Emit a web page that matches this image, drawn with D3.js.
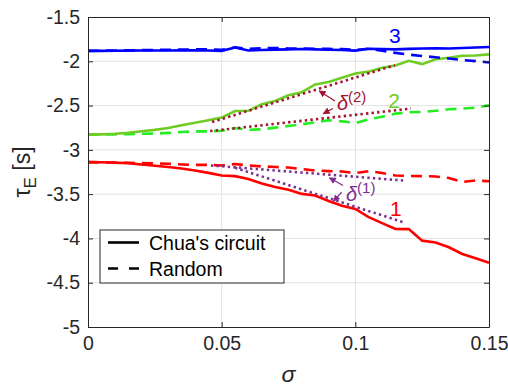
<!DOCTYPE html>
<html>
<head>
<meta charset="utf-8">
<script src="https://cdn.jsdelivr.net/npm/d3@7"></script>
<style>
body { margin: 0; background: #fff; }
svg text { font-family: "Liberation Sans", Arial, Helvetica, sans-serif; fill: #262626; }
</style>
</head>
<body>
<svg id="chart" width="508" height="386"></svg>
<script>
// sigma grid of the simulation
const sigma = [0, 0.005, 0.01, 0.015, 0.02, 0.025, 0.03, 0.035, 0.04, 0.045, 0.05,
    0.055, 0.06, 0.065, 0.07, 0.075, 0.08, 0.085, 0.09, 0.095, 0.1,
    0.105, 0.11, 0.115, 0.12, 0.125, 0.13, 0.135, 0.14, 0.145, 0.15];

// case 1 (red)
const chua1 = [-3.139, -3.14, -3.145, -3.15, -3.165, -3.18, -3.193, -3.21, -3.233, -3.26, -3.29,
    -3.297, -3.33, -3.38, -3.42, -3.45, -3.497, -3.516, -3.578, -3.63, -3.667,
    -3.76, -3.827, -3.893, -3.895, -4.025, -4.045, -4.10, -4.176, -4.223, -4.275];
const random1 = [-3.139, -3.142, -3.142, -3.146, -3.15, -3.153, -3.157, -3.165, -3.17, -3.17, -3.176,
    -3.16, -3.176, -3.187, -3.193, -3.20, -3.216, -3.233, -3.24, -3.244, -3.263,
    -3.24, -3.261, -3.289, -3.295, -3.297, -3.30, -3.318, -3.363, -3.346, -3.354];

// case 2 (green)
const chua2 = [-2.828, -2.825, -2.819, -2.808, -2.789, -2.774, -2.754, -2.723, -2.695, -2.666, -2.636,
    -2.561, -2.559, -2.485, -2.448, -2.383, -2.349, -2.262, -2.233, -2.185, -2.138,
    -2.117, -2.072, -2.047, -1.995, -2.032, -1.976, -1.961, -1.938, -1.934, -1.922];
const random2 = [-2.825, -2.825, -2.825, -2.822, -2.819, -2.817, -2.808, -2.799, -2.791, -2.791, -2.785,
    -2.754, -2.774, -2.768, -2.749, -2.731, -2.712, -2.689, -2.666, -2.678, -2.697,
    -2.655, -2.627, -2.591, -2.576, -2.572, -2.559, -2.542, -2.534, -2.523, -2.497];

// case 3 (blue)
const chua3 = [-1.882, -1.882, -1.881, -1.880, -1.879, -1.879, -1.878, -1.877, -1.877, -1.878, -1.882,
    -1.845, -1.878, -1.872, -1.868, -1.865, -1.862, -1.866, -1.870, -1.872, -1.880,
    -1.858, -1.862, -1.865, -1.860, -1.855, -1.853, -1.855, -1.850, -1.845, -1.838];
const random3 = [-1.882, -1.880, -1.878, -1.876, -1.874, -1.872, -1.870, -1.868, -1.866, -1.866, -1.870,
    -1.843, -1.860, -1.852, -1.850, -1.855, -1.855, -1.858, -1.860, -1.862, -1.872,
    -1.858, -1.880, -1.905, -1.925, -1.940, -1.955, -1.968, -1.985, -1.998, -2.013];

// dotted delta segments  [sigma, tau]
const delta2Upper = [[0.0464, -2.686], [0.1148, -2.044]];
const delta2Lower = [[0.0457, -2.788], [0.1208, -2.534]];
const delta1Upper = [[0.046, -3.176], [0.118, -3.346]];
const delta1Lower = [[0.055, -3.202], [0.118, -3.818]];

const xTicks = [0, 0.05, 0.1, 0.15];
const yTicks = [-5, -4.5, -4, -3.5, -3, -2.5, -2, -1.5];
const xTickLabels = ["0", "0.05", "0.1", "0.15"];
const yTickLabels = ["-5", "-4.5", "-4", "-3.5", "-3", "-2.5", "-2", "-1.5"];
const legendLabels = ["Chua's circuit", "Random"];

const margin = {left: 88, top: 17, right: 19, bottom: 59};
const W = 508, H = 386;
const svg = d3.select("#chart");

const x = d3.scaleLinear().domain([0, 0.15]).range([margin.left, W - margin.right]);
const y = d3.scaleLinear().domain([-5, -1.5]).range([H - margin.bottom, margin.top]);

const axisColor = "#262626";

// grid
svg.append("g").selectAll("line").data(xTicks.slice(1, -1)).join("line")
    .attr("x1", d => x(d)).attr("x2", d => x(d))
    .attr("y1", y(-5)).attr("y2", y(-1.5))
    .attr("stroke", "#e3e3e3").attr("stroke-width", 1);
svg.append("g").selectAll("line").data(yTicks.slice(1, -1)).join("line")
    .attr("y1", d => y(d)).attr("y2", d => y(d))
    .attr("x1", x(0)).attr("x2", x(0.15))
    .attr("stroke", "#e3e3e3").attr("stroke-width", 1);

const line = d3.line().x((d, i) => x(sigma[i])).y(d => y(d));
const seg = d3.line().x(d => x(d[0])).y(d => y(d[1]));

const series = [
    {v: random1, color: "#ff0000", dash: "11,7"},
    {v: chua1, color: "#ff0000", dash: null},
    {v: random2, color: "#22ee22", dash: "11,7"},
    {v: chua2, color: "#6fcc22", dash: null},
    {v: random3, color: "#0000ff", dash: "11,7"},
    {v: chua3, color: "#0000ff", dash: null}
];

series.forEach(s => {
    svg.append("path").datum(s.v)
        .attr("d", line)
        .attr("fill", "none")
        .attr("stroke", s.color)
        .attr("stroke-width", 2.6)
        .attr("stroke-dasharray", s.dash);
});

// dotted delta lines
[[delta2Upper, "#a2142f"], [delta2Lower, "#a2142f"], [delta1Upper, "#7e2f8e"], [delta1Lower, "#7e2f8e"]]
    .forEach(p => {
        svg.append("path").datum(p[0])
            .attr("d", seg)
            .attr("fill", "none")
            .attr("stroke", p[1])
            .attr("stroke-width", 2.6)
            .attr("stroke-dasharray", "2.4,3.2");
    });

// arrow heads
const defs = svg.append("defs");
["#a2142f", "#7e2f8e"].forEach((c, i) => {
    defs.append("marker")
        .attr("id", "arr" + i)
        .attr("viewBox", "0 0 10 10")
        .attr("refX", 9).attr("refY", 5)
        .attr("markerWidth", 7).attr("markerHeight", 7)
        .attr("markerUnits", "userSpaceOnUse")
        .attr("orient", "auto")
        .append("path").attr("d", "M0,0 L10,5 L0,10 z").attr("fill", c);
});

const arrows = [
    {from: [0.0924, -2.448], to: [0.0865, -2.335], m: 0, c: "#a2142f"},
    {from: [0.0916, -2.534], to: [0.0880, -2.591], m: 0, c: "#a2142f"},
    {from: [0.0954, -3.403], to: [0.0903, -3.315], m: 1, c: "#7e2f8e"},
    {from: [0.0949, -3.478], to: [0.0918, -3.580], m: 1, c: "#7e2f8e"}
];
arrows.forEach(a => {
    svg.append("line")
        .attr("x1", x(a.from[0])).attr("y1", y(a.from[1]))
        .attr("x2", x(a.to[0])).attr("y2", y(a.to[1]))
        .attr("stroke", a.c).attr("stroke-width", 1.2)
        .attr("marker-end", "url(#arr" + a.m + ")");
});

// delta labels
function deltaLabel(pos, sup, color) {
    const t = svg.append("text")
        .attr("x", x(pos[0])).attr("y", y(pos[1]))
        .style("font-size", "20px").style("fill", color);
    t.append("tspan").text("δ").style("font-style", "italic");
    t.append("tspan").text("(" + sup + ")").attr("dy", -8).style("font-size", "15px");
}
deltaLabel([0.0931, -2.553], 2, "#a2142f");
deltaLabel([0.0965, -3.572], 1, "#7e2f8e");

// case numbers
[["3", [0.1148, -1.794], "#0000ff"], ["2", [0.1145, -2.531], "#6fcc22"], ["1", [0.1152, -3.742], "#ff0000"]]
    .forEach(l => {
        svg.append("text").text(l[0])
            .attr("x", x(l[1][0])).attr("y", y(l[1][1]))
            .attr("text-anchor", "middle")
            .style("font-size", "21px").style("fill", l[2]);
    });

// axes box with inward ticks
const xAxis = d3.axisBottom(x).tickValues(xTicks).tickFormat((d, i) => xTickLabels[i]).tickSizeInner(-5).tickSizeOuter(0).tickPadding(9);
const yAxis = d3.axisLeft(y).tickValues(yTicks).tickFormat((d, i) => yTickLabels[i]).tickSizeInner(-5).tickSizeOuter(0).tickPadding(8);

const gx = svg.append("g").attr("transform", `translate(0,${y(-5)})`).call(xAxis);
const gy = svg.append("g").attr("transform", `translate(${x(0)},0)`).call(yAxis);
const gx2 = svg.append("g").attr("transform", `translate(0,${y(-1.5)})`)
    .call(d3.axisTop(x).tickValues(xTicks).tickFormat("").tickSizeInner(-5).tickSizeOuter(0));
const gy2 = svg.append("g").attr("transform", `translate(${x(0.15)},0)`)
    .call(d3.axisRight(y).tickValues(yTicks).tickFormat("").tickSizeInner(-5).tickSizeOuter(0));

[gx, gy, gx2, gy2].forEach(g => {
    g.selectAll("path, line").attr("stroke", axisColor);
    g.selectAll("text").style("font-size", "19.5px").attr("fill", axisColor)
        .style("font-family", "'Liberation Sans', Arial, sans-serif");
});

// axis labels
svg.append("text").text("σ")
    .attr("x", x(0.075)).attr("y", 382)
    .attr("text-anchor", "middle")
    .style("font-size", "23px").style("font-style", "italic");

const yl = svg.append("text")
    .attr("transform", `translate(30,${y(-3.25)}) rotate(-90)`)
    .attr("text-anchor", "middle")
    .style("font-size", "23px");
yl.append("tspan").text("τ");
yl.append("tspan").text("E").attr("dy", 6).style("font-size", "17px");
yl.append("tspan").text(" [s]").attr("dy", -6);

// legend
const lg = svg.append("g");
lg.append("rect")
    .attr("x", 100).attr("y", 230).attr("width", 184).attr("height", 53)
    .attr("fill", "#fff").attr("stroke", axisColor).attr("stroke-width", 1);
legendLabels.forEach((lab, i) => {
    const yy = 242.5 + i * 26;
    lg.append("line")
        .attr("x1", 108).attr("x2", 139).attr("y1", yy).attr("y2", yy)
        .attr("stroke", "#000").attr("stroke-width", 2.6)
        .attr("stroke-dasharray", i == 1 ? "10,11" : null);
    lg.append("text").text(lab)
        .attr("x", 149).attr("y", yy + 7.5)
        .style("font-size", "19.5px").style("fill", "#000");
});
</script>
</body>
</html>
